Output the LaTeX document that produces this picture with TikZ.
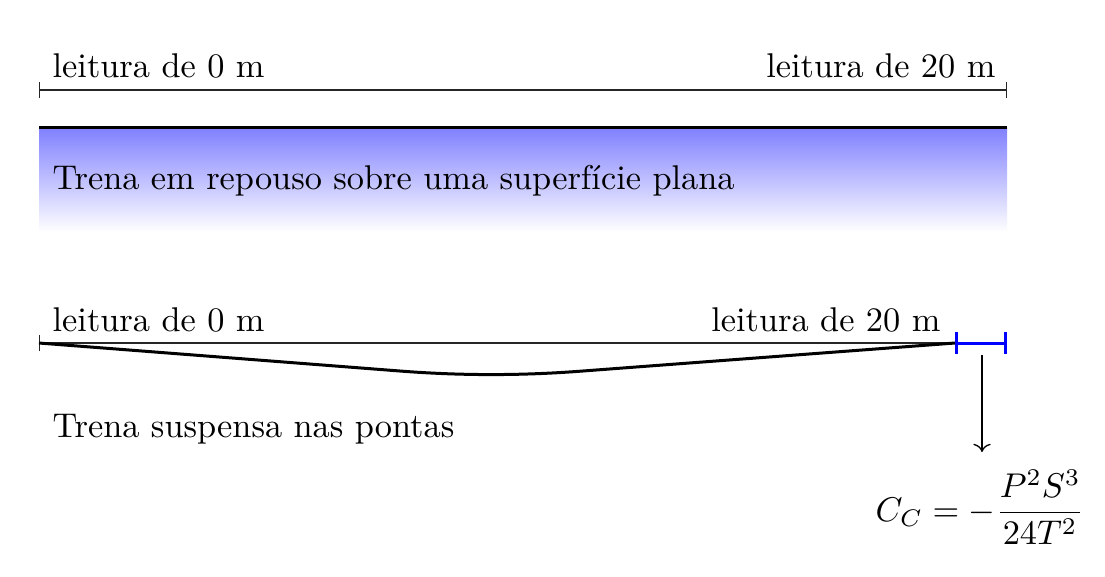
\documentclass[tikz,border=0pt]{standalone}
\usepackage{amsmath}
\usetikzlibrary{arrows.meta}
\begin{document}
\begin{tikzpicture}[x=0.3pt,y=-0.3pt,
  lbl/.style={inner sep=0pt,font=\fontsize{10.3}{12}\selectfont},
  dimline/.style={line width=0.4pt,black!85},
  tape/.style={line width=0.9pt,black},
  corr/.style={line width=0.9pt,blue},
  ptr/.style={line width=0.4pt,-To}]
\useasboundingbox (0,0) rectangle (1105,576);
% top: tape at rest
\coordinate (a0) at (39,90);
\coordinate (a1) at (1007,90);
\draw[dimline,{Bar[width=5pt]}-{Bar[width=5pt]}] (a0) -- (a1);
\node[lbl,anchor=base west] (t0) at (52,77) {leitura de 0 m};
\node[lbl,anchor=base east] (t20) at (996,77) {leitura de 20 m};
\shade[top color=blue!50,bottom color=white] (39,127) rectangle (1007,232);
\coordinate (b0) at (39,127);
\coordinate (b1) at (1007,127);
\draw[tape] (b0) -- (b1);
\node[lbl,anchor=base west] (rest) at (52,189) {Trena em repouso sobre uma superf\'{\i}cie plana};
% bottom: suspended tape
\coordinate (c0) at (39,343);
\coordinate (c1) at (955,343);
\coordinate (c2) at (1007,343);
\coordinate (sl) at (400,371);
\coordinate (sr) at (580,371.2);
\coordinate (k1) at (460,375.67);
\coordinate (k2) at (520,375.73);
\draw[dimline,{Bar[width=5pt]}-] (c0) -- (c1);
\node[lbl,anchor=base west] (s0) at (52,331) {leitura de 0 m};
\node[lbl,anchor=base east] (s20) at (941,331) {leitura de 20 m};
\draw[tape] (c0) -- (sl) .. controls (k1) and (k2) .. (sr) -- (c1);
\draw[corr,{Bar[width=6.6pt]}-{Bar[width=6.6pt]}] (c1) -- (c2);
\node[lbl,anchor=base west] (susp) at (52,437) {Trena suspensa nas pontas};
\node[inner sep=0pt,anchor=base,scale=1.03] (eq) at (980,521) {$C_C=-\dfrac{P^2S^3}{24T^2}$};
\coordinate (p0) at (982,355);
\draw[ptr] (p0) -- (982,452);
\end{tikzpicture}
\end{document}
